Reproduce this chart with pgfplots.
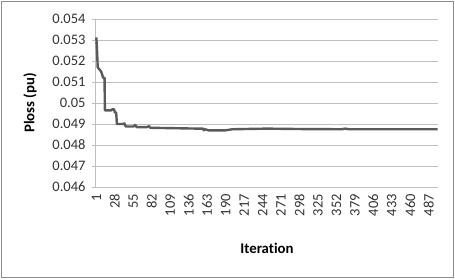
\documentclass[border=0pt]{standalone}
\usepackage{pgfplots}
\pgfplotsset{compat=1.18}
\usepackage{fontspec}
\setmainfont{Carlito}[Ligatures=NoCommon]
\definecolor{gridc}{HTML}{BFBFBF}
\definecolor{linec}{HTML}{5A5A5A}
\definecolor{framec}{HTML}{8C8C8C}
\begin{document}
\begin{tikzpicture}[x=1pt,y=1pt]
\path[use as bounding box] (-96,-92) rectangle (359,187);
\draw[color=framec, line width=1pt] (-94.5,-90.5) rectangle (357.5,185.5);
\begin{axis}[at={(0,0)}, anchor=south west, scale only axis, width=342pt, height=168pt,
  xmin=0.5, xmax=500.5, ymin=0.046, ymax=0.054,
  /pgf/number format/assume math mode=true,
  scaled y ticks=false,
  xtick={1,28,...,487},
  ytick={0.046,0.047,0.048,0.049,0.05,0.051,0.052,0.053,0.054},
  yticklabels={0.046,0.047,0.048,0.049,0.05,0.051,0.052,0.053,0.054},
  axis lines*=left,
  axis line style={gridc, line width=1pt},
  ymajorgrids, grid style={gridc, line width=1pt},
  xtick style={draw=none},
  ytick style={gridc, line width=1pt},
  tick align=outside, major tick length=4pt,
  ticklabel style={font=\fontsize{14.5}{16}\selectfont, text=black!80},
  x tick label style={rotate=90, anchor=east, inner sep=1pt, xshift=-2pt},
  y tick label style={xshift=-3pt},
  xlabel={\textbf{Iteration}},
  ylabel={\textbf{Ploss (pu)}},
  label style={font=\fontsize{14.8}{16}\selectfont},
  xlabel style={at={([yshift=-61pt]axis description cs:0.5,0)}, anchor=center},
  ylabel style={at={([xshift=-66pt]axis description cs:0,0.5)}, anchor=center},
  clip=false,
]
\addplot[linec, line width=2.4pt, line join=round] coordinates {
(1,0.05312) (2,0.0525) (3,0.0517) (5,0.05162) (8,0.0515) (11,0.0512)
(13,0.0512) (13.5,0.04965) (23,0.04965) (24,0.0497) (27,0.0497) (28,0.04955)
(30,0.04955) (31,0.0490) (40,0.0490) (42,0.04903) (44,0.04888) (55,0.04888)
(58,0.04895) (60,0.04885) (75,0.04885) (78,0.0489) (80,0.04882) (150,0.04878)
(157,0.04878) (158,0.0487) (160,0.04875) (163,0.04872) (165,0.0487) (190,0.0487)
(200,0.04875) (250,0.04878) (300,0.04876) (360,0.04875) (365,0.04878)
(370,0.04875) (500,0.04875)
};
\end{axis}
\end{tikzpicture}
\end{document}
